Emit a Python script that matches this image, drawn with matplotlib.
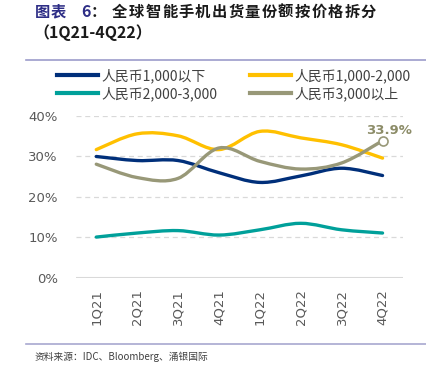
import matplotlib
matplotlib.use("Agg")
import matplotlib.pyplot as plt
from matplotlib.path import Path
from matplotlib.patches import PathPatch
from matplotlib.lines import Line2D
from matplotlib.ticker import FuncFormatter

plt.rcParams['font.family'] = ['Noto Sans CJK SC', 'DejaVu Sans']

quarters = ['1Q21', '2Q21', '3Q21', '4Q21', '1Q22', '2Q22', '3Q22', '4Q22']
below_1000 = [30.0, 29.0, 29.0, 26.0, 23.6, 25.2, 27.1, 25.3]
rmb_1000_2000 = [31.7, 35.6, 35.1, 31.7, 36.2, 34.6, 32.9, 29.6]
rmb_2000_3000 = [10.1, 11.1, 11.7, 10.6, 11.9, 13.5, 11.9, 11.1]
above_3000 = [28.1, 24.8, 24.6, 32.1, 28.8, 26.9, 28.4, 33.9]

series_names = ['人民币1,000以下', '人民币1,000-2,000', '人民币2,000-3,000', '人民币3,000以上']
colors = ['#002F7A', '#FFC000', '#00A09A', '#989878']

title_rest = '全球智能手机出货量份额按价格拆分'


def smooth_path(xs, ys):
    # excel style smoothed line: cubic bezier with catmull-rom handles
    n = len(xs)
    verts = [(xs[0], ys[0])]
    codes = [Path.MOVETO]
    for i in range(n - 1):
        x0, y0 = (xs[i - 1], ys[i - 1]) if i > 0 else (xs[i], ys[i])
        x1, y1 = xs[i], ys[i]
        x2, y2 = xs[i + 1], ys[i + 1]
        x3, y3 = (xs[i + 2], ys[i + 2]) if i + 2 < n else (x2, y2)
        c1 = (x1 + (x2 - x0) / 6, y1 + (y2 - y0) / 6)
        c2 = (x2 - (x3 - x1) / 6, y2 - (y3 - y1) / 6)
        verts += [c1, c2, (x2, y2)]
        codes += [Path.CURVE4] * 3
    return Path(verts, codes)


fig = plt.figure(figsize=(4.26, 3.68), dpi=100)
ax = fig.add_axes([0.178, 0.2446, 0.768, 0.4402])

xs = list(range(len(quarters)))
for vals, col in zip([below_1000, rmb_1000_2000, rmb_2000_3000, above_3000], colors):
    ax.add_patch(PathPatch(smooth_path(xs, vals), facecolor='none', edgecolor=col,
                           lw=2.4, capstyle='round', zorder=3))

ax.plot([xs[-1]], [above_3000[-1]], 'o', ms=6.5, mfc='white', mec=colors[3], mew=1.2, zorder=4)
ax.text(xs[-1] + 0.15, above_3000[-1] + 2.6, '%.1f%%' % above_3000[-1], color='#8C8C68',
        fontsize=9.5, fontweight='bold', ha='center', va='center', family=['DejaVu Sans'])

ax.set_xlim(-0.5, 7.5)
ax.set_ylim(0, 40)
ax.set_yticks([0, 10, 20, 30, 40])
ax.yaxis.set_major_formatter(FuncFormatter(lambda y, _: '%d%%' % y))
ax.set_xticks(xs)
ax.set_xticklabels(quarters, rotation=90)
for y in [10, 20, 30, 40]:
    ax.axhline(y, color='#D9D9D9', lw=0.9, ls=(0, (4, 3)), zorder=1)
ax.axhline(0, color='#D9D9D9', lw=1.5, zorder=1)
for s in ax.spines.values():
    s.set_visible(False)
ax.tick_params(length=0, labelsize=9.5, colors='#595959')
ax.tick_params(axis='y', pad=13)
ax.tick_params(axis='x', pad=8)
for lab in ax.get_xticklabels() + ax.get_yticklabels():
    lab.set_family(['DejaVu Sans'])

# legend filled column-wise, so reorder to get row-wise layout
order = [0, 2, 1, 3]
handles = [Line2D([0], [0], color=colors[i], lw=3) for i in order]
fig.legend(handles, [series_names[i] for i in order], loc='upper left',
           bbox_to_anchor=(0.105, 0.848), ncol=2, frameon=False, fontsize=10,
           handlelength=2.9, handletextpad=0.25, columnspacing=2.4, labelspacing=0.25,
           labelcolor='#404040')

# header, chars spaced out like the original
fig.text(0.082, 0.968, '图', color='#2E2E86', fontsize=11, fontweight='bold', va='center')
fig.text(0.118, 0.968, '表', color='#2E2E86', fontsize=11, fontweight='bold', va='center')
fig.text(0.190, 0.968, '6', color='#2E2E86', fontsize=11.5, fontweight='bold', va='center')
fig.text(0.213, 0.968, '：', color='#1A1A1A', fontsize=11, fontweight='bold', va='center')
for k, ch in enumerate(title_rest):
    fig.text((112 + k * 16.6) / 426, 0.968, ch, color='#1A1A1A', fontsize=11,
             fontweight='bold', va='center')
fig.text(0.078, 0.912, '（1Q21-4Q22）', color='#1A1A1A', fontsize=11.5, fontweight='bold', va='center')
fig.add_artist(Line2D([0.06, 1.0], [0.836, 0.836], color='#9C9CCB', lw=1.2))
fig.add_artist(Line2D([0.06, 1.0], [0.065, 0.065], color='#A8A8D0', lw=1.2))
fig.text(0.082, 0.03, '资料来源：IDC、Bloomberg、涌银国际', color='#404040', fontsize=7, va='center')

fig.savefig('out.png', dpi=100)
